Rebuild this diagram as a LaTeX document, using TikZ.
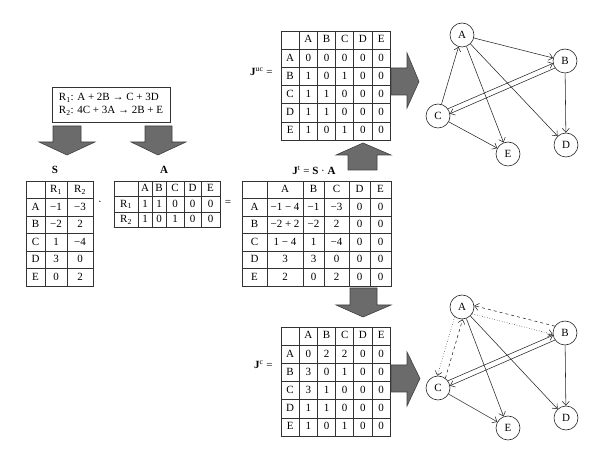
\documentclass[tikz,border=0pt]{standalone}
\usepackage{fontspec}
\setmainfont{Liberation Serif}
\usepackage{tikz}
\usetikzlibrary{matrix}
\usetikzlibrary{arrows.meta}
\tikzstyle{tablemat} = [matrix of nodes, nodes in empty cells, line width=0.7pt, row sep=-\pgflinewidth, column sep=-\pgflinewidth, anchor=north west, nodes={rectangle, draw=black!80, inner sep=0pt, text height=7.5pt, text depth=2pt}]
\tikzstyle{reaction} = [rectangle, draw=black!80, line width=0.7pt, minimum width=118pt, minimum height=35pt, align=left]
\tikzstyle{fatarrow} = [fill=black!58, draw=black!75, line width=0.6pt]
\tikzstyle{state} = [circle, draw=black!85, minimum size=24pt, inner sep=0pt, line width=0.6pt]
\tikzstyle{edge} = [-{Straight Barb[length=4pt,width=7pt]}, line width=0.55pt, black!85]

\begin{document}
\begin{tikzpicture}[x=1pt, y=-1pt, font=\fontsize{11}{13}\selectfont]
    \useasboundingbox (0,0) rectangle (600,462);

    % reactions and the two matrices made from them
    \node (react) [reaction] at (111,104.5) {R\textsubscript{1}: A + 2B → C + 3D\\R\textsubscript{2}: 4C + 3A → 2B + E};
    \draw [fatarrow] (53,126) -- (81,126) -- (81,142) -- (95,142) -- (67,155) -- (39,142) -- (53,142) -- cycle;
    \draw [fatarrow] (145,126) -- (172,126) -- (172,142) -- (186,142) -- (158,155) -- (131,142) -- (145,142) -- cycle;

    \node (Slabel) at (55,170) {\textbf{S}};
    \matrix (S) [tablemat, nodes={minimum height=17.5pt},
        column 1/.style={nodes={minimum width=19pt}},
        column 2/.style={nodes={minimum width=22pt}},
        column 3/.style={nodes={minimum width=26pt}}] at (22,177) {
         & R\textsubscript{1} & R\textsubscript{2} \\
        A & −1 & −3 \\
        B & −2 & 2 \\
        C & 1 & −4 \\
        D & 3 & 0 \\
        E & 0 & 2 \\
    };

    \node (dot) at (100,203) {·};

    \node (Alabel) at (164,170) {\textbf{A}};
    \matrix (Amat) [tablemat, nodes={minimum height=15.5pt},
        column 1/.style={nodes={minimum width=24pt}},
        column 2/.style={nodes={minimum width=14pt}},
        column 3/.style={nodes={minimum width=14pt}},
        column 4/.style={nodes={minimum width=18pt}},
        column 5/.style={nodes={minimum width=17pt}},
        column 6/.style={nodes={minimum width=19pt}}] at (110,177) {
         & A & B & C & D & E \\
        R\textsubscript{1} & 1 & 1 & 0 & 0 & 0 \\
        R\textsubscript{2} & 1 & 0 & 1 & 0 & 0 \\
    };

    \node (eq) at (228,203) {=};

    % total jacobian
    \node (Jtlabel) at (314,170) {\textbf{J}\textsuperscript{t} = \textbf{S} · \textbf{A}};
    \matrix (Jt) [tablemat, nodes={minimum height=17.5pt},
        column 1/.style={nodes={minimum width=25pt}},
        column 2/.style={nodes={minimum width=36pt}},
        column 3/.style={nodes={minimum width=21pt}},
        column 4/.style={nodes={minimum width=25pt}},
        column 5/.style={nodes={minimum width=21pt}},
        column 6/.style={nodes={minimum width=21pt}}] at (238,177) {
         & A & B & C & D & E \\
        A & −1 − 4 & −1 & −3 & 0 & 0 \\
        B & −2 + 2 & −2 & 2 & 0 & 0 \\
        C & 1 − 4 & 1 & −4 & 0 & 0 \\
        D & 3 & 3 & 0 & 0 & 0 \\
        E & 2 & 0 & 2 & 0 & 0 \\
    };

    \draw [fatarrow] (348,170) -- (377,170) -- (377,155) -- (391,155) -- (363,143) -- (336,155) -- (348,155) -- cycle;
    \draw [fatarrow] (350,288) -- (377,288) -- (377,305) -- (391,305) -- (363,317) -- (336,305) -- (350,305) -- cycle;

    % uncancelled
    \node (Juclabel) [anchor=east] at (276,72) {\textbf{J}\textsuperscript{uc} =};
    \matrix (Juc) [tablemat, nodes={minimum height=18.2pt, minimum width=18.2pt}] at (277,27) {
         & A & B & C & D & E \\
        A & 0 & 0 & 0 & 0 & 0 \\
        B & 1 & 0 & 1 & 0 & 0 \\
        C & 1 & 1 & 0 & 0 & 0 \\
        D & 1 & 1 & 0 & 0 & 0 \\
        E & 1 & 0 & 1 & 0 & 0 \\
    };

    % cancelled
    \node (Jclabel) [anchor=east] at (276,365) {\textbf{J}\textsuperscript{c} =};
    \matrix (Jc) [tablemat, nodes={minimum height=18.2pt, minimum width=18.2pt}] at (277,323) {
         & A & B & C & D & E \\
        A & 0 & 2 & 2 & 0 & 0 \\
        B & 3 & 0 & 1 & 0 & 0 \\
        C & 3 & 1 & 0 & 0 & 0 \\
        D & 1 & 1 & 0 & 0 & 0 \\
        E & 1 & 0 & 1 & 0 & 0 \\
    };

    \draw [fatarrow] (391,68) -- (407,68) -- (407,53) -- (419,81.5) -- (407,108) -- (407,95) -- (391,95) -- cycle;
    \draw [fatarrow] (391,365) -- (407,365) -- (407,352) -- (420,378.5) -- (407,406) -- (407,392) -- (391,392) -- cycle;

    % graph of J^uc
    \node (uA) [state] at (462,35) {A};
    \node (uB) [state] at (565,61) {B};
    \node (uC) [state] at (438,116) {C};
    \node (uD) [state] at (566,145) {D};
    \node (uE) [state] at (508,154) {E};
    \draw [edge] (uA) -- (uB);
    \draw [edge] (uA) -- (uE);
    \draw [edge] (uA) -- (uD);
    \draw [edge] (uC) -- (uA);
    \draw [edge] (uC.36) -- (uB.191);
    \draw [edge] (uB.215) -- (uC.11);
    \draw [edge] (uB) -- (uD);
    \draw [edge] (uC) -- (uE);

    % graph of J^c
    \node (cA) [state] at (462,307) {A};
    \node (cB) [state] at (565,333) {B};
    \node (cC) [state] at (438,388) {C};
    \node (cD) [state] at (566,418) {D};
    \node (cE) [state] at (508,428) {E};
    \draw [edge, dashed] (cB.146) -- (cA.6);
    \draw [edge, dotted] (cA.-34) -- (cB.186);
    \draw [edge, dotted] (cA.233) -- (cC.93);
    \draw [edge, dashed] (cC.53) -- (cA.273);
    \draw [edge] (cA) -- (cE);
    \draw [edge] (cA) -- (cD);
    \draw [edge] (cC.36) -- (cB.191);
    \draw [edge] (cB.215) -- (cC.11);
    \draw [edge] (cB) -- (cD);
    \draw [edge] (cC) -- (cE);
\end{tikzpicture}
\end{document}
